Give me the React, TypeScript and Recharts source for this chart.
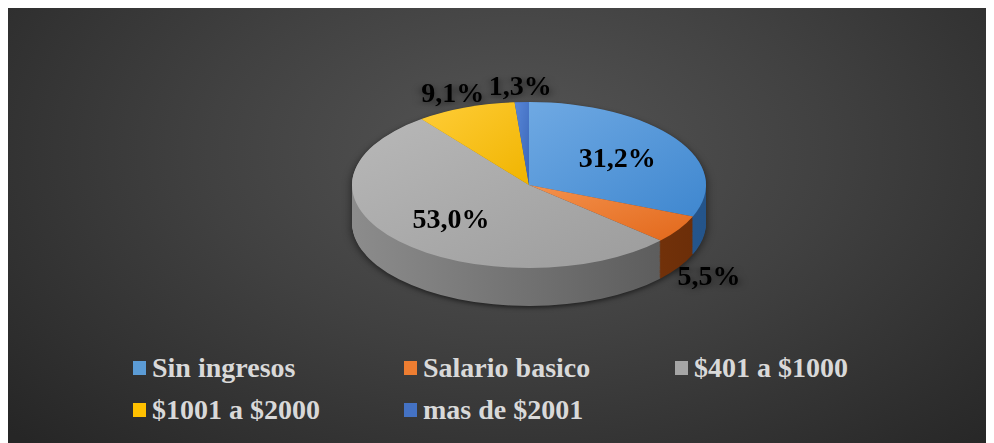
import React from "react";
import { PieChart, Pie, Cell } from "recharts";

const categories = [
  "Sin ingresos",
  "Salario basico",
  "$401 a $1000",
  "$1001 a $2000",
  "mas de $2001",
];
const values = [31.2, 5.5, 53.0, 9.1, 1.3];
const topColors = [
  ["#6fa9e3", "#3f87cf"],
  ["#f4914c", "#e2681b"],
  ["#b8b8b8", "#9c9c9c"],
  ["#ffcd38", "#f0b400"],
  ["#5887d8", "#3a66b8"],
];
const sideColors = [
  ["#3570aa", "#24548a"],
  ["#a34c16", "#6a2d08"],
  ["#8c8c8c", "#565656"],
  ["#c09100", "#8a6800"],
  ["#3458a0", "#263f78"],
];
const legendColors = ["#5b9bd5", "#ed7d31", "#a5a5a5", "#ffc000", "#4472c4"];

const data = categories.map((name, i) => ({ name, value: values[i] }));

const PANEL_W = 978;
const PANEL_H = 440;
const K = 0.469; // vertical squash of the disc
const R = 177;
const CX = 521;
const CY = 180 / K;
const DEPTH = 38 / K;
const CHART_H = Math.round(CY + R + DEPTH + 10);
const RAD = Math.PI / 180;

const fmt = (v: number) => v.toFixed(1).replace(".", ",") + "%";

const sideOffsets: number[] = [];
for (let d = Math.round(DEPTH); d > 0; d -= 2) sideOffsets.push(d);

function renderLabel(props: any) {
  const { cx, cy, midAngle, outerRadius, value } = props;
  const inside = value >= 10;
  const r = inside ? outerRadius * 0.6 : outerRadius * 1.2;
  let x = cx + r * Math.cos(-midAngle * RAD);
  let y = cy + r * Math.sin(-midAngle * RAD);
  if (!inside && y > cy) y += DEPTH;
  return (
    <text
      transform={`translate(${x},${y}) scale(1,${1 / K})`}
      x={0}
      y={0}
      textAnchor="middle"
      dominantBaseline="central"
      fill="#000"
      style={{
        fontFamily: "'Liberation Serif', 'Times New Roman', serif",
        fontWeight: 700,
        fontSize: 28,
      }}
    >
      {fmt(value)}
    </text>
  );
}

export default function App() {
  return (
    <div
      style={{
        position: "relative",
        width: PANEL_W,
        height: PANEL_H,
        marginTop: -3,
        overflow: "hidden",
        background:
          "radial-gradient(ellipse 70% 95% at 52% 33%, #555555 0%, #414141 45%, #262626 100%)",
        fontFamily: "'Liberation Serif', 'Times New Roman', serif",
      }}
    >
      <svg width={0} height={0} style={{ position: "absolute" }}>
        <defs>
          {topColors.map((c, i) => (
            <linearGradient key={"t" + i} id={"top" + i} x1="0" y1="0" x2="1" y2="1">
              <stop offset="0%" stopColor={c[0]} />
              <stop offset="100%" stopColor={c[1]} />
            </linearGradient>
          ))}
          {sideColors.map((c, i) => (
            <linearGradient
              key={"s" + i}
              id={"side" + i}
              gradientUnits="userSpaceOnUse"
              x1={CX - R}
              y1={0}
              x2={CX + R}
              y2={0}
            >
              <stop offset="0%" stopColor={c[0]} />
              <stop offset="100%" stopColor={c[1]} />
            </linearGradient>
          ))}
        </defs>
      </svg>

      <div
        style={{
          position: "absolute",
          left: 0,
          top: 0,
          width: PANEL_W,
          height: CHART_H,
          transform: `scaleY(${K})`,
          transformOrigin: "top left",
          filter: "drop-shadow(0px 4px 5px rgba(0,0,0,0.55))",
        }}
      >
        <PieChart width={PANEL_W} height={CHART_H} margin={{ top: 0, right: 0, bottom: 0, left: 0 }}>
          {sideOffsets.map((d) => (
            <Pie
              key={"side" + d}
              data={data}
              dataKey="value"
              cx={CX}
              cy={CY + d}
              outerRadius={R}
              startAngle={90}
              endAngle={-270}
              stroke="none"
              isAnimationActive={false}
              labelLine={false}
            >
              {data.map((_, i) => (
                <Cell key={i} fill={`url(#side${i})`} />
              ))}
            </Pie>
          ))}
          <Pie
            data={data}
            dataKey="value"
            cx={CX}
            cy={CY}
            outerRadius={R}
            startAngle={90}
            endAngle={-270}
            stroke="none"
            isAnimationActive={false}
            labelLine={false}
            label={renderLabel}
          >
            {data.map((_, i) => (
              <Cell key={i} fill={`url(#top${i})`} />
            ))}
          </Pie>
        </PieChart>
      </div>

      <div
        style={{
          position: "absolute",
          left: 125,
          top: 342,
          display: "grid",
          gridTemplateColumns: "271px 271px 271px",
          gridAutoRows: "42px",
        }}
      >
        {categories.map((name, i) => (
          <div key={name} style={{ display: "flex", alignItems: "center" }}>
            <span
              style={{
                width: 13,
                height: 14,
                background: legendColors[i],
                marginRight: 6,
                display: "inline-block",
              }}
            />
            <span
              style={{
                color: "#d9d9d9",
                fontWeight: 700,
                fontSize: 28,
                whiteSpace: "nowrap",
              }}
            >
              {name}
            </span>
          </div>
        ))}
      </div>
    </div>
  );
}
